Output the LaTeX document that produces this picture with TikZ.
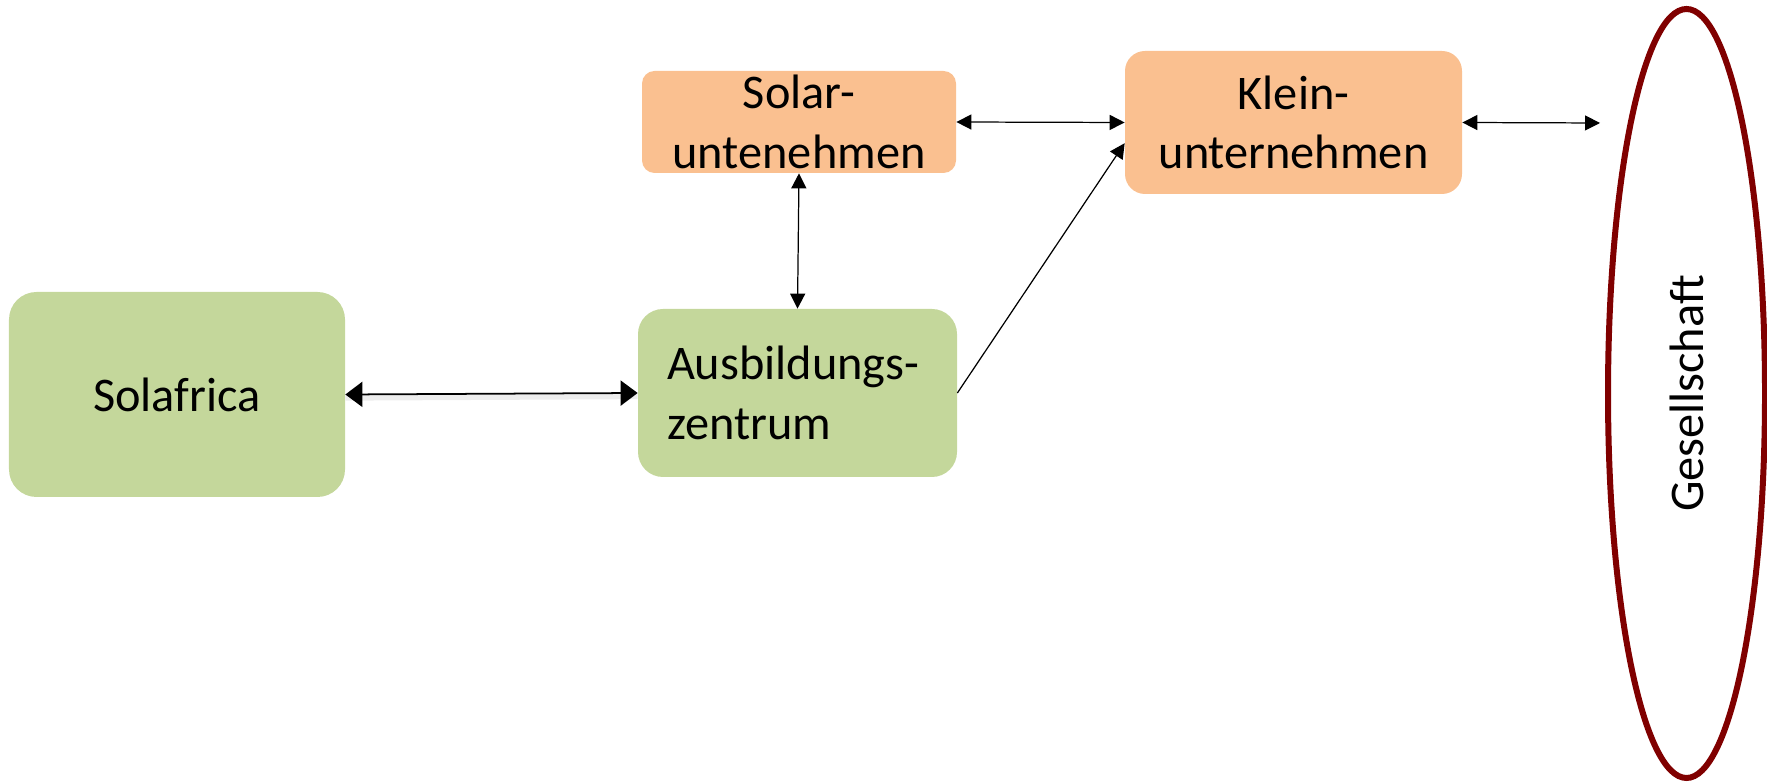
\documentclass[tikz,border=0pt]{standalone}
\usepackage{fontspec}
\setmainfont{Carlito}
\usepackage{tikz}
\usetikzlibrary{arrows.meta, shapes.geometric}

\definecolor{gruen}{RGB}{196,215,155}
\definecolor{orange}{RGB}{250,192,144}
\definecolor{dunkelrot}{RGB}{128,0,0}

\tikzset{
  kasten/.style={rounded corners=#1, inner sep=0pt, font=\fontsize{27.5}{34}\selectfont, align=center},
  gruenkasten/.style={kasten=0.5cm, fill=gruen},
  orangekasten/.style={kasten=0.3cm, fill=orange},
  pfeil/.style={line width=0.7pt, {Triangle[length=0.3cm,width=0.3cm]}-{Triangle[length=0.3cm,width=0.3cm]}},
  dickpfeil/.style={line width=1pt, {Triangle[length=0.34cm,width=0.5cm]}-{Triangle[length=0.34cm,width=0.5cm]}}
}

\begin{document}
\begin{tikzpicture}
\useasboundingbox (0,0) rectangle (35.34,15.62);

% Kaesten
\node[gruenkasten, kasten=0.55cm, minimum width=6.72cm, minimum height=4.1cm] (solafrica) at (3.54,7.73) {Solafrica};
\node[gruenkasten, minimum width=6.38cm, minimum height=3.36cm, text width=5.22cm, align=left] (ausbildung) at (15.95,7.76) {Ausbildungs-\\zentrum};
\node[orangekasten, kasten=0.25cm, minimum width=6.28cm, minimum height=2.04cm] (solar) at (15.98,13.18) {Solar-\\untenehmen};
\node[orangekasten, kasten=0.4cm, minimum width=6.74cm, minimum height=2.86cm] (klein) at (25.87,13.17) {Klein-\\unternehmen};

% Gesellschaft
\node[ellipse, draw=dunkelrot, line width=0.12cm, minimum width=3.14cm, minimum height=15.38cm, inner sep=0pt] (gesellschaft) at (33.73,7.75) {};
\node[rotate=90, font=\fontsize{27.5}{34}\selectfont] (gesellschafttext) at (gesellschaft.center) {Gesellschaft};
\coordinate (rand) at (32.0,13.16);

% Verbindungen
\draw[dickpfeil, preaction={draw=black!7, line width=3pt, transform canvas={yshift=-2pt}, arrows=-}] (solafrica.east) -- (ausbildung.west);
\draw[pfeil] (solar.south) -- (ausbildung.north);
\draw[pfeil] (solar.east) -- (klein.west);
\draw[line width=0.7pt, -{Triangle[length=0.3cm,width=0.3cm]}] (ausbildung.east) -- (klein.187);
\draw[pfeil] (klein.east) -- (rand);
\end{tikzpicture}
\end{document}
